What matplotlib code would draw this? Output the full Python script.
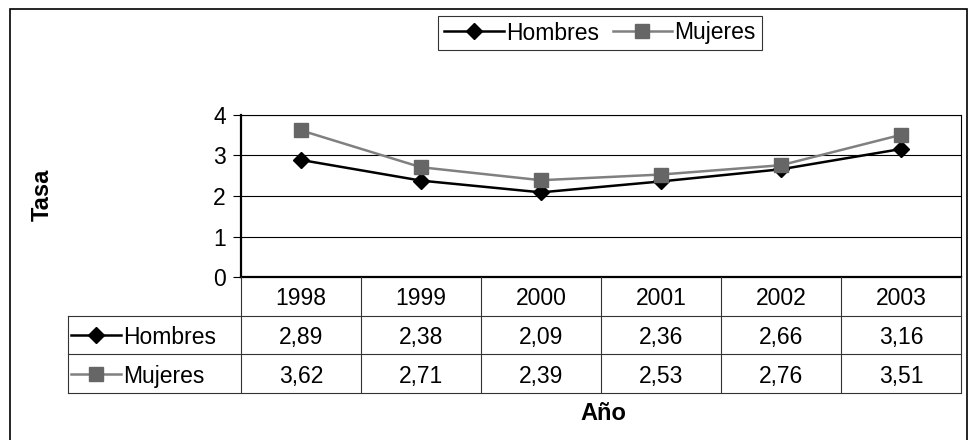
import matplotlib
matplotlib.use("Agg")
from matplotlib import pyplot as plt
from matplotlib.patches import Rectangle

plt.rcParams['font.family'] = ['Liberation Sans', 'DejaVu Sans']

years = ['1998', '1999', '2000', '2001', '2002', '2003']
hombres = [2.89, 2.38, 2.09, 2.36, 2.66, 3.16]
mujeres = [3.62, 2.71, 2.39, 2.53, 2.76, 3.51]
series = [('Hombres', hombres, 'black', 'D', 'black', 8),
          ('Mujeres', mujeres, '#808080', 's', '#666666', 10)]

W, H = 978, 440
fs = 16.5
fig = plt.figure(figsize=(W / 100, H / 100), dpi=100)

def box(x0, y0, x1, y1):
    # pixel box (top-left origin) -> figure fraction rect
    return [x0 / W, 1 - y1 / H, (x1 - x0) / W, (y1 - y0) / H]

# marco exterior
fig.patches.append(Rectangle((10 / W, -0.02), 957 / W, 1 - 9 / H + 0.02,
                             transform=fig.transFigure, fill=False,
                             edgecolor='black', linewidth=1.2))

# grafico
ax = fig.add_axes(box(241, 115, 961, 277))
x = list(range(len(years)))
for name, vals, col, mk, mcol, ms in series:
    ax.plot(x, vals, color=col, linewidth=1.8, marker=mk, markersize=ms,
            markerfacecolor=mcol, markeredgecolor=mcol, label=name, zorder=3)
ax.set_xlim(-0.5, len(years) - 0.5)
ax.set_ylim(0, 4)
ax.set_yticks([0, 1, 2, 3, 4])
ax.set_xticks([])
ax.yaxis.grid(True, color='black', linewidth=0.8)
ax.tick_params(axis='y', labelsize=fs, length=6, width=0.8, pad=5)
for s in ['top', 'right']:
    ax.spines[s].set_linewidth(0.8)
for s in ['left', 'bottom']:
    ax.spines[s].set_linewidth(1.6)

# tabla de datos
tx = fig.add_axes(box(68, 277, 961, 393))
lab_w = 173 / 120
x0 = -0.5 - lab_w
tx.set_xlim(x0, len(years) - 0.5)
tx.set_ylim(3, 0)
tx.axis('off')
lc = '#333333'
lw = 0.8
for i, yr in enumerate(years):
    tx.text(i, 0.5, yr, ha='center', va='center_baseline', fontsize=fs)
    tx.text(i, 1.5, f'{hombres[i]:.2f}'.replace('.', ','), ha='center', va='center_baseline', fontsize=fs)
    tx.text(i, 2.5, f'{mujeres[i]:.2f}'.replace('.', ','), ha='center', va='center_baseline', fontsize=fs)
# lineas verticales
for i in range(len(years) + 1):
    tx.plot([i - 0.5, i - 0.5], [0, 3], color=lc, linewidth=lw, clip_on=False)
tx.plot([x0, x0], [1, 3], color=lc, linewidth=lw, clip_on=False)
# lineas horizontales
tx.plot([x0, len(years) - 0.5], [1, 1], color=lc, linewidth=lw, clip_on=False)
tx.plot([x0, len(years) - 0.5], [2, 2], color=lc, linewidth=lw, clip_on=False)
tx.plot([x0, len(years) - 0.5], [3, 3], color=lc, linewidth=lw, clip_on=False)
# claves de leyenda en la tabla
for r, (name, vals, col, mk, mcol, ms) in enumerate(series):
    yy = 1.5 + r
    k0, k1 = x0 + 3 / 120, x0 + 53 / 120
    tx.plot([k0, k1], [yy, yy], color=col, linewidth=1.8, clip_on=False)
    tx.plot([(k0 + k1) / 2], [yy], marker=mk, markersize=ms, color=mcol, clip_on=False)
    tx.text(x0 + 55 / 120, yy, name, ha='left', va='center_baseline', fontsize=fs)

# leyenda
handles, labels = ax.get_legend_handles_labels()
leg = fig.legend(handles, labels, loc='center', bbox_to_anchor=(600 / W, 1 - 33 / H),
                 ncol=2, fontsize=fs, frameon=True, fancybox=False, handlelength=2.6,
                 handletextpad=0.1, columnspacing=0.6, borderpad=0.25,
                 borderaxespad=0, numpoints=1)
leg.get_frame().set_edgecolor('black')
leg.get_frame().set_linewidth(0.8)

fig.text(42 / W, 1 - 195 / H, 'Tasa', rotation=90, ha='center', va='center',
         fontsize=17, fontweight='bold')
fig.text(603 / W, 1 - 413 / H, 'Año', ha='center', va='center',
         fontsize=17, fontweight='bold')

fig.savefig('out.png', dpi=100)
